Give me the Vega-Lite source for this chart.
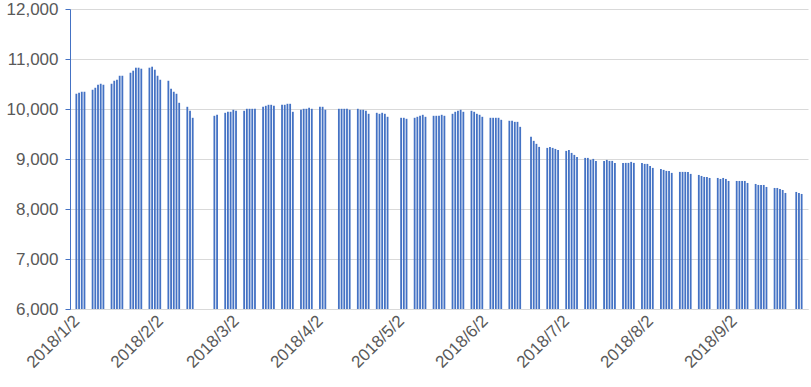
{
  "$schema": "https://vega.github.io/schema/vega-lite/v6.json",
  "width": 738,
  "height": 300,
  "autosize": {"type": "none"},
  "padding": {"left": 70, "top": 9, "right": 3, "bottom": 78},
  "background": "white",
  "config": {"view": {"stroke": null}, "font": "Liberation Sans"},
  "data": {"values": [
    {"d":"2018/1/2","v":10305},{"d":"2018/1/3","v":10325},{"d":"2018/1/4","v":10345},{"d":"2018/1/5","v":10345},
    {"d":"2018/1/8","v":10385},{"d":"2018/1/9","v":10425},{"d":"2018/1/10","v":10485},{"d":"2018/1/11","v":10505},{"d":"2018/1/12","v":10485},
    {"d":"2018/1/15","v":10505},{"d":"2018/1/16","v":10565},{"d":"2018/1/17","v":10585},{"d":"2018/1/18","v":10665},{"d":"2018/1/19","v":10665},
    {"d":"2018/1/22","v":10725},{"d":"2018/1/23","v":10766},{"d":"2018/1/24","v":10826},{"d":"2018/1/25","v":10826},{"d":"2018/1/26","v":10806},
    {"d":"2018/1/29","v":10826},{"d":"2018/1/30","v":10846},{"d":"2018/1/31","v":10786},{"d":"2018/2/1","v":10665},{"d":"2018/2/2","v":10585},
    {"d":"2018/2/5","v":10565},{"d":"2018/2/6","v":10405},{"d":"2018/2/7","v":10345},{"d":"2018/2/8","v":10305},{"d":"2018/2/9","v":10124},
    {"d":"2018/2/12","v":10044},{"d":"2018/2/13","v":9964},{"d":"2018/2/14","v":9824},
    {"d":"2018/2/22","v":9864},{"d":"2018/2/23","v":9884},
    {"d":"2018/2/26","v":9924},{"d":"2018/2/27","v":9944},{"d":"2018/2/28","v":9944},{"d":"2018/3/1","v":9984},{"d":"2018/3/2","v":9964},
    {"d":"2018/3/5","v":9964},{"d":"2018/3/6","v":10004},{"d":"2018/3/7","v":10004},{"d":"2018/3/8","v":10004},{"d":"2018/3/9","v":10004},
    {"d":"2018/3/12","v":10044},{"d":"2018/3/13","v":10064},{"d":"2018/3/14","v":10084},{"d":"2018/3/15","v":10084},{"d":"2018/3/16","v":10064},
    {"d":"2018/3/19","v":10084},{"d":"2018/3/20","v":10084},{"d":"2018/3/21","v":10104},{"d":"2018/3/22","v":10104},{"d":"2018/3/23","v":9944},
    {"d":"2018/3/26","v":9984},{"d":"2018/3/27","v":10004},{"d":"2018/3/28","v":10004},{"d":"2018/3/29","v":10024},{"d":"2018/3/30","v":10004},
    {"d":"2018/4/2","v":10044},{"d":"2018/4/3","v":10044},{"d":"2018/4/4","v":9984},
    {"d":"2018/4/9","v":10004},{"d":"2018/4/10","v":10004},{"d":"2018/4/11","v":10004},{"d":"2018/4/12","v":10004},{"d":"2018/4/13","v":9984},
    {"d":"2018/4/16","v":10004},{"d":"2018/4/17","v":9984},{"d":"2018/4/18","v":9984},{"d":"2018/4/19","v":9964},{"d":"2018/4/20","v":9904},
    {"d":"2018/4/23","v":9924},{"d":"2018/4/24","v":9904},{"d":"2018/4/25","v":9924},{"d":"2018/4/26","v":9904},{"d":"2018/4/27","v":9844},
    {"d":"2018/5/2","v":9824},{"d":"2018/5/3","v":9824},{"d":"2018/5/4","v":9804},
    {"d":"2018/5/7","v":9824},{"d":"2018/5/8","v":9844},{"d":"2018/5/9","v":9864},{"d":"2018/5/10","v":9884},{"d":"2018/5/11","v":9844},
    {"d":"2018/5/14","v":9864},{"d":"2018/5/15","v":9864},{"d":"2018/5/16","v":9864},{"d":"2018/5/17","v":9884},{"d":"2018/5/18","v":9864},
    {"d":"2018/5/21","v":9904},{"d":"2018/5/22","v":9944},{"d":"2018/5/23","v":9964},{"d":"2018/5/24","v":9984},{"d":"2018/5/25","v":9944},
    {"d":"2018/5/28","v":9964},{"d":"2018/5/29","v":9944},{"d":"2018/5/30","v":9904},{"d":"2018/5/31","v":9884},{"d":"2018/6/1","v":9844},
    {"d":"2018/6/4","v":9824},{"d":"2018/6/5","v":9824},{"d":"2018/6/6","v":9824},{"d":"2018/6/7","v":9824},{"d":"2018/6/8","v":9784},
    {"d":"2018/6/11","v":9764},{"d":"2018/6/12","v":9764},{"d":"2018/6/13","v":9743},{"d":"2018/6/14","v":9743},{"d":"2018/6/15","v":9643},
    {"d":"2018/6/19","v":9443},{"d":"2018/6/20","v":9363},{"d":"2018/6/21","v":9303},{"d":"2018/6/22","v":9242},
    {"d":"2018/6/25","v":9222},{"d":"2018/6/26","v":9242},{"d":"2018/6/27","v":9222},{"d":"2018/6/28","v":9202},{"d":"2018/6/29","v":9182},
    {"d":"2018/7/2","v":9162},{"d":"2018/7/3","v":9182},{"d":"2018/7/4","v":9122},{"d":"2018/7/5","v":9082},{"d":"2018/7/6","v":9042},
    {"d":"2018/7/9","v":9022},{"d":"2018/7/10","v":9022},{"d":"2018/7/11","v":8982},{"d":"2018/7/12","v":9002},{"d":"2018/7/13","v":8962},
    {"d":"2018/7/16","v":8962},{"d":"2018/7/17","v":8982},{"d":"2018/7/18","v":8962},{"d":"2018/7/19","v":8962},{"d":"2018/7/20","v":8922},
    {"d":"2018/7/23","v":8922},{"d":"2018/7/24","v":8922},{"d":"2018/7/25","v":8922},{"d":"2018/7/26","v":8942},{"d":"2018/7/27","v":8922},
    {"d":"2018/7/30","v":8922},{"d":"2018/7/31","v":8902},{"d":"2018/8/1","v":8902},{"d":"2018/8/2","v":8862},{"d":"2018/8/3","v":8822},
    {"d":"2018/8/6","v":8802},{"d":"2018/8/7","v":8782},{"d":"2018/8/8","v":8762},{"d":"2018/8/9","v":8762},{"d":"2018/8/10","v":8722},
    {"d":"2018/8/13","v":8742},{"d":"2018/8/14","v":8742},{"d":"2018/8/15","v":8742},{"d":"2018/8/16","v":8742},{"d":"2018/8/17","v":8702},
    {"d":"2018/8/20","v":8681},{"d":"2018/8/21","v":8661},{"d":"2018/8/22","v":8641},{"d":"2018/8/23","v":8641},{"d":"2018/8/24","v":8621},
    {"d":"2018/8/27","v":8621},{"d":"2018/8/28","v":8601},{"d":"2018/8/29","v":8621},{"d":"2018/8/30","v":8601},{"d":"2018/8/31","v":8561},
    {"d":"2018/9/3","v":8561},{"d":"2018/9/4","v":8561},{"d":"2018/9/5","v":8561},{"d":"2018/9/6","v":8561},{"d":"2018/9/7","v":8521},
    {"d":"2018/9/10","v":8501},{"d":"2018/9/11","v":8481},{"d":"2018/9/12","v":8481},{"d":"2018/9/13","v":8481},{"d":"2018/9/14","v":8441},
    {"d":"2018/9/17","v":8421},{"d":"2018/9/18","v":8421},{"d":"2018/9/19","v":8401},{"d":"2018/9/20","v":8381},{"d":"2018/9/21","v":8321},
    {"d":"2018/9/25","v":8341},{"d":"2018/9/26","v":8321},{"d":"2018/9/27","v":8301}
  ]},
  "mark": {"type": "bar", "width": 1.8, "color": "#4472C4"},
  "encoding": {
    "x": {
      "field": "d", "type": "temporal",
      "scale": {"domain": [{"year": 2018, "month": 1, "date": 1, "hours": 12}, {"year": 2018, "month": 9, "date": 27, "hours": 12}]},
      "axis": {
        "values": [
          {"year": 2018, "month": 1, "date": 2}, {"year": 2018, "month": 2, "date": 2}, {"year": 2018, "month": 3, "date": 2},
          {"year": 2018, "month": 4, "date": 2}, {"year": 2018, "month": 5, "date": 2}, {"year": 2018, "month": 6, "date": 2},
          {"year": 2018, "month": 7, "date": 2}, {"year": 2018, "month": 8, "date": 2}, {"year": 2018, "month": 9, "date": 2}
        ],
        "format": "%Y/%-m/%-d",
        "labelAngle": -45, "labelAlign": "right", "labelBaseline": "middle",
        "labelFontSize": 17, "labelColor": "#595959", "labelPadding": 9,
        "labelOverlap": false, "labelFlush": false, "labelBound": false,
        "ticks": false, "grid": false, "domainColor": "#D9D9D9", "title": null
      }
    },
    "y": {
      "field": "v", "type": "quantitative",
      "scale": {"domain": [6000, 12000], "zero": false, "nice": false},
      "axis": {
        "values": [6000, 7000, 8000, 9000, 10000, 11000, 12000],
        "format": ",.0f", "title": null,
        "domainColor": "#4472C4", "tickColor": "#4472C4", "tickSize": 5,
        "gridColor": "#D9D9D9", "labelFontSize": 17, "labelColor": "#595959", "labelPadding": 7
      }
    },
    "y2": {"datum": 6000}
  }
}
